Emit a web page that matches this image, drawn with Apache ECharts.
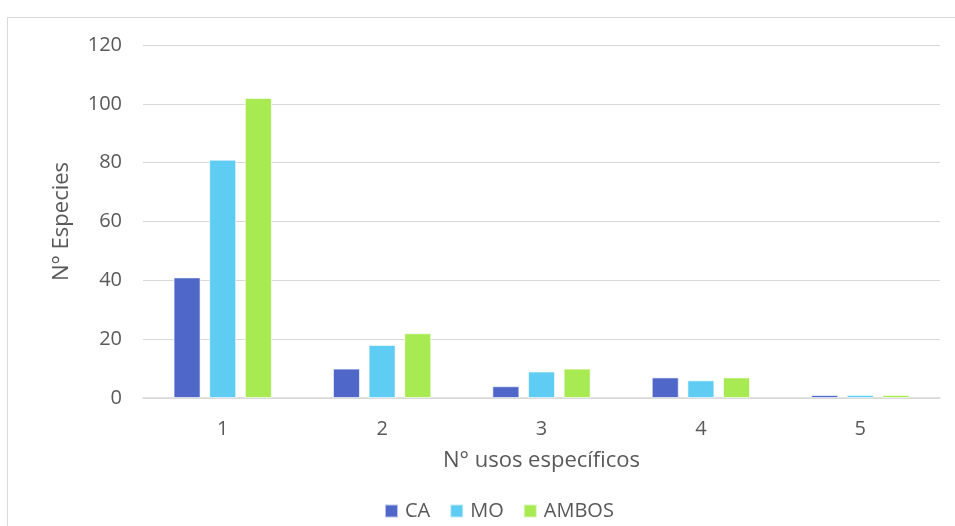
<!DOCTYPE html>
<html>
<head>
<meta charset="utf-8">
<script src="https://cdn.jsdelivr.net/npm/echarts@6/dist/echarts.min.js"></script>
<style>
  html, body { margin: 0; padding: 0; background: #fff; }
  #chart { width: 955px; height: 526px; }
</style>
</head>
<body>
<div id="chart"></div>
<script>
// Number of species by number of specific uses
const categories = ['1', '2', '3', '4', '5'];
const seriesNames = ['CA', 'MO', 'AMBOS'];
const caValues = [41, 10, 4, 7, 1];
const moValues = [81, 18, 9, 6, 1];
const ambosValues = [102, 22, 10, 7, 1];
const colors = ['#4E67C8', '#5ECCF3', '#A7EA52'];

const fontFamily = '"Open Sans", "Noto Sans", sans-serif';
const textColor = '#595959';

const chart = echarts.init(document.getElementById('chart'), null, { renderer: 'canvas' });

function barSeries(name, data, color) {
  return {
    name: name,
    type: 'bar',
    data: data,
    barWidth: 27,
    barGap: '32%',
    itemStyle: { color: color, borderColor: 'rgba(255,255,255,0.6)', borderWidth: 1 }
  };
}

chart.setOption({
  animation: false,
  backgroundColor: '#ffffff',
  textStyle: { fontFamily: fontFamily },
  graphic: [{
    type: 'rect',
    left: 5, top: 15,
    shape: { width: 960, height: 520 },
    style: { fill: 'none', stroke: '#d9d9d9', lineWidth: 1 },
    silent: true
  }],
  grid: { left: 143, right: 15, top: 45, bottom: 128 },
  legend: {
    data: seriesNames,
    bottom: 0,
    left: 379,
    icon: 'rect',
    itemWidth: 13,
    itemHeight: 13,
    itemGap: 19,
    textStyle: { color: textColor, fontSize: 20, fontFamily: fontFamily, padding: [0, 0, 0, 2] }
  },
  xAxis: {
    type: 'category',
    data: categories,
    name: 'N° usos específicos',
    nameLocation: 'middle',
    nameGap: 52,
    nameTextStyle: { color: textColor, fontSize: 22, fontFamily: fontFamily },
    axisLine: { lineStyle: { color: '#d9d9d9', width: 1.5 } },
    axisTick: { show: false },
    axisLabel: { color: textColor, fontSize: 20, margin: 21, fontFamily: fontFamily }
  },
  yAxis: {
    type: 'value',
    min: 0,
    max: 120,
    interval: 20,
    name: 'N° Especies',
    nameLocation: 'middle',
    nameGap: 70,
    nameTextStyle: { color: textColor, fontSize: 22, fontFamily: fontFamily },
    axisLine: { show: false },
    axisTick: { show: false },
    axisLabel: { color: textColor, fontSize: 20, margin: 21, fontFamily: fontFamily },
    splitLine: { lineStyle: { color: '#d9d9d9', width: 1.2 } }
  },
  series: [
    barSeries(seriesNames[0], caValues, colors[0]),
    barSeries(seriesNames[1], moValues, colors[1]),
    barSeries(seriesNames[2], ambosValues, colors[2])
  ]
});
</script>
</body>
</html>
